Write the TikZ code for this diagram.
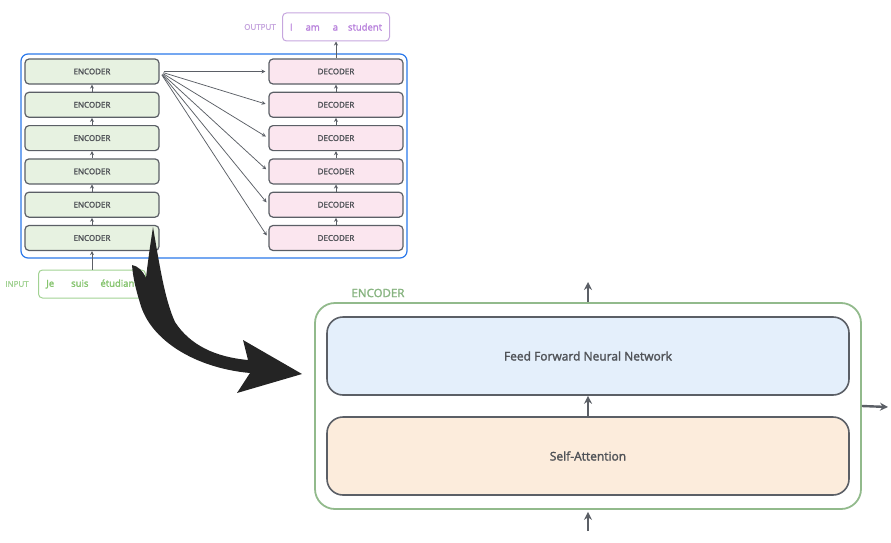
\documentclass[tikz,border=0pt]{standalone}
\usepackage{fontspec}
\setmainfont{Open Sans}[BoldFont={Open Sans}, BoldFeatures={FakeBold=2}]
\usepackage{xcolor}
\usetikzlibrary{arrows.meta}

\definecolor{boxgray}{HTML}{5B5F66}
\definecolor{txtgray}{HTML}{505358}
\definecolor{encfill}{HTML}{E7F2E1}
\definecolor{decfill}{HTML}{FBE6EF}
\definecolor{framblue}{HTML}{2A78EA}
\definecolor{outline}{HTML}{C6A6DE}
\definecolor{outtext}{HTML}{B983DC}
\definecolor{inline}{HTML}{A2D293}
\definecolor{intext}{HTML}{86C46F}
\definecolor{ffnfill}{HTML}{E4EFFB}
\definecolor{safill}{HTML}{FCECDC}
\definecolor{biggreen}{HTML}{92BA8C}
\definecolor{biglbl}{HTML}{86B37F}

\tikzset{
	stackbox/.style={draw=boxgray, rounded corners=4pt, line width=1.2pt,
		minimum width=134pt, minimum height=25pt, text=txtgray,
		font=\fontsize{8}{9}\selectfont\bfseries},
	encbox/.style={stackbox, fill=encfill},
	decbox/.style={stackbox, fill=decfill},
	smallarrow/.style={draw=boxgray, line width=0.9pt, -{Stealth[length=4pt,width=4pt]}},
	fanarrow/.style={smallarrow, line width=0.75pt, shorten <=4pt, shorten >=3pt},
	wordbox/.style={rounded corners=4pt, line width=1pt, minimum width=107pt,
		minimum height=28pt, font=\fontsize{9.5}{10}\selectfont\bfseries},
	sidelabel/.style={font=\fontsize{8}{9}\selectfont\bfseries},
	bigbox/.style={draw=boxgray, rounded corners=16pt, line width=1.6pt,
		minimum width=522pt, minimum height=78pt, text=txtgray,
		font=\fontsize{12}{13}\selectfont\bfseries},
	bigarrow/.style={draw=boxgray, line width=2.4pt, -{Stealth[length=8pt,width=8pt]}}
}

\begin{document}
\begin{tikzpicture}[x=1pt,y=-1pt]
\useasboundingbox (0,0) rectangle (891,543);
% stacks of encoders and decoders
\draw[framblue, line width=1.2pt, rounded corners=7pt] (21,54) rectangle (407,258);
\foreach \i in {1,...,6}
	{
	\node[encbox] (enc\i) at (92,{71.5+33.3*(\i-1)}) {ENCODER};
	\node[decbox] (dec\i) at (336,{71.5+33.3*(\i-1)}) {DECODER};
	}
\foreach \i [evaluate=\i as \j using int(\i+1)] in {1,...,5}
	{
	\draw[smallarrow] (enc\j) -- (enc\i);
	\draw[smallarrow] (dec\j) -- (dec\i);
	}
\foreach \i in {1,...,6}
	{
	\draw[fanarrow] (enc1.east) -- (dec\i.west);
	}
% output and input words
\node[wordbox, draw=outline, text=outtext] (out) at (336,27)
	{I\hspace{13pt}am\hspace{13pt}a\hspace{10pt}student};
\node[sidelabel, text=outline] (outlbl) at (260,27) {OUTPUT};
\draw[smallarrow] (dec1) -- (out);
\node[wordbox, draw=inline, text=intext] (inp) at (92,284)
	{Je\hspace{17pt}suis\hspace{12pt}étudiant};
\node[sidelabel, text=inline] (inlbl) at (17,284) {INPUT};
\draw[smallarrow] (inp) -- (enc6);
% big curved arrow
\fill[black!86] (153,227) .. controls (160,268) and (165,300) .. (175,322)
	.. controls (190,345) and (215,357) .. (248,360) -- (243,340) -- (302,374)
	-- (237,393) -- (250,373) .. controls (195,368) and (150,340) .. (140,303)
	.. controls (136,290) and (133,278) .. (132,265)
	.. controls (138,266) and (143,271) .. (146,278)
	.. controls (148,260) and (151,240) .. (153,227) -- cycle;
% one encoder, opened
\node[draw=biggreen, rounded corners=20pt, line width=1.8pt, minimum width=546pt,
	minimum height=206pt] (encbig) at (588,406) {};
\node[bigbox, fill=ffnfill] (ffn) at (588,356) {Feed Forward Neural Network};
\node[bigbox, fill=safill] (sa) at (588,456) {Self-Attention};
\node[text=biglbl, font=\fontsize{11.5}{12}\selectfont\bfseries] (enclbl) at (378,293) {ENCODER};
\draw[bigarrow] (sa) -- (ffn);
\coordinate (topout) at (588,282);
\coordinate (botin) at (588,531);
\coordinate (rightout) at (888,407);
\draw[bigarrow] (encbig.north) -- (topout);
\draw[bigarrow] (botin) -- ([yshift=-2pt]encbig.south);
\draw[bigarrow] (encbig.east) -- (rightout);
\end{tikzpicture}
\end{document}
